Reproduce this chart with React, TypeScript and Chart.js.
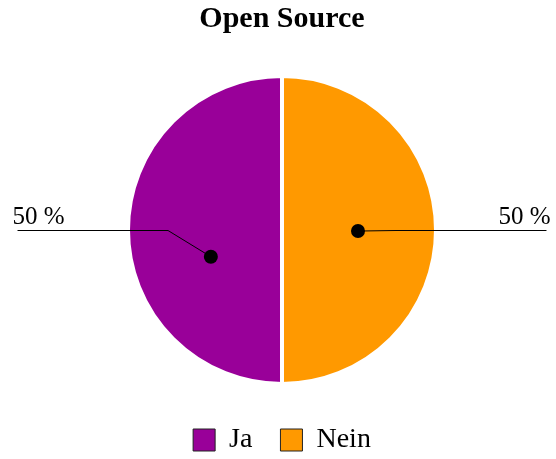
import React, { useEffect, useRef } from "react";
import { Chart, registerables } from "chart.js";

Chart.register(...registerables);

const categories = ["Ja", "Nein"];
const values = [50, 50];
const colors = ["#990099", "#FF9900"];
const titleText = "Open Source";

// label styling (not data)
const BORDER = 4;
const LABEL_LAYOUT = [
  { dotAngle: -20.6, dotR: 0.5 },
  { dotAngle: 0.8, dotR: 0.5 },
];
const ELBOW_R = 0.75;
const LINE_EXT = 1.74;

const pieLabels = {
  id: "pieLabels",
  afterDatasetsDraw(chart: any) {
    const ctx = chart.ctx as CanvasRenderingContext2D;
    const meta = chart.getDatasetMeta(0);
    const data = chart.data.datasets[0].data as number[];
    const total = data.reduce((a, b) => a + b, 0);
    meta.data.forEach((arc: any, i: number) => {
      const p = arc.getProps(["x", "y", "startAngle", "endAngle", "outerRadius"], true);
      const r = p.outerRadius - BORDER / 2;
      const mid = (p.startAngle + p.endAngle) / 2;
      const lay = LABEL_LAYOUT[i];
      const da = mid + (lay.dotAngle * Math.PI) / 180;
      const dx = p.x + Math.cos(da) * r * lay.dotR;
      const dy = p.y + Math.sin(da) * r * lay.dotR;
      const ex = p.x + Math.cos(mid) * r * ELBOW_R;
      const ey = p.y + Math.sin(mid) * r * ELBOW_R + 0.5;
      const side = Math.cos(mid) >= 0 ? 1 : -1;
      const endX = p.x + side * r * LINE_EXT;
      ctx.save();
      ctx.strokeStyle = "#000";
      ctx.lineWidth = 1;
      ctx.beginPath();
      ctx.moveTo(dx, dy);
      ctx.lineTo(ex, ey);
      ctx.lineTo(endX, ey);
      ctx.stroke();
      ctx.fillStyle = "#000";
      ctx.beginPath();
      ctx.arc(dx, dy, 7, 0, Math.PI * 2);
      ctx.fill();
      const pct = Math.round((data[i] / total) * 100);
      ctx.font = "25px 'Liberation Serif'";
      ctx.textBaseline = "alphabetic";
      if (side < 0) {
        ctx.textAlign = "left";
        ctx.fillText(pct + " %", endX - 5, ey - 7);
      } else {
        ctx.textAlign = "right";
        ctx.fillText(pct + " %", endX + 4, ey - 7);
      }
      ctx.restore();
    });
  },
};

export default function App() {
  const ref = useRef<HTMLCanvasElement | null>(null);
  useEffect(() => {
    document.body.style.margin = "0";
    const chart = new Chart(ref.current as HTMLCanvasElement, {
      type: "pie",
      data: {
        labels: categories,
        datasets: [
          {
            data: values,
            backgroundColor: colors,
            borderColor: "#ffffff",
            borderWidth: BORDER,
          },
        ],
      },
      options: {
        animation: false,
        responsive: true,
        maintainAspectRatio: false,
        rotation: 180,
        radius: 154,
        layout: { padding: { left: 8, right: 0, top: 0, bottom: -5 } },
        plugins: {
          title: {
            display: true,
            text: titleText,
            color: "#000",
            font: { family: "'Liberation Serif'", size: 30, weight: "bold" },
            padding: { top: 1, bottom: 25 },
          },
          legend: {
            position: "bottom",
            labels: {
              color: "#000",
              font: { family: "'Liberation Serif'", size: 28 },
              boxWidth: 22,
              boxHeight: 22,
              padding: 28,
              generateLabels: (c: any) =>
                c.data.labels.map((l: string, i: number) => ({
                  text: l,
                  fillStyle: colors[i],
                  strokeStyle: "#222",
                  lineWidth: 1,
                  hidden: false,
                  index: i,
                  fontColor: "#000",
                })),
            },
          },
          tooltip: { enabled: false },
        },
      },
      plugins: [pieLabels],
    });
    return () => chart.destroy();
  }, []);
  return (
    <div style={{ position: "relative", width: 556, height: 459 }}>
      <canvas ref={ref} />
    </div>
  );
}
